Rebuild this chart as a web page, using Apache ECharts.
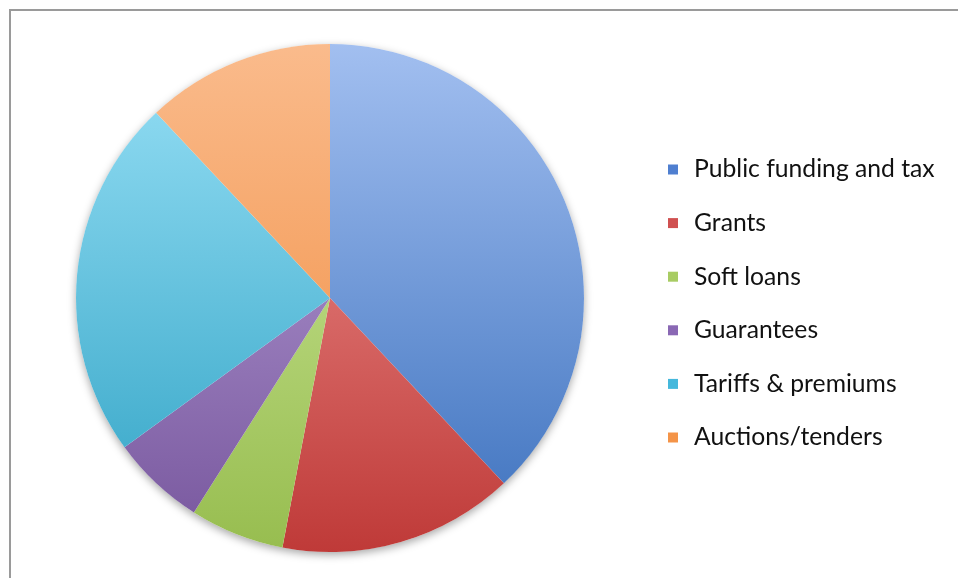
<!DOCTYPE html>
<html>
<head>
<meta charset="utf-8">
<script src="https://cdn.jsdelivr.net/npm/echarts@6/dist/echarts.min.js"></script>
<style>
  html, body { margin: 0; padding: 0; background: #fff; }
  #frame { position: absolute; left: 9px; top: 9px; width: 960px; height: 580px;
           border-left: 2px solid #9a9a9a; border-top: 2px solid #9a9a9a; }
  #chart { position: absolute; left: 0; top: 0; width: 958px; height: 578px; }
</style>
</head>
<body>
<div id="frame"></div>
<div id="chart"></div>
<script>
// Funding instruments (share, %)
const categories = ['Public funding and tax', 'Grants', 'Soft loans', 'Guarantees', 'Tariffs & premiums', 'Auctions/tenders'];
const shares = [38, 15, 6, 6, 23, 12];
// light (top of pie) -> dark (bottom of pie)
const lightColors = ['#a2bff0', '#f29a98', '#d2eba2', '#bca6dc', '#98e0f6', '#fabb8c'];
const darkColors  = ['#3b70bd', '#bf3a38', '#97bd4f', '#77569d', '#2fa2c4', '#f0893a'];
const legendColors = ['#4f7fd0', '#d05050', '#a8cc63', '#8a68b4', '#45b8dc', '#f49448'];

const cx = 330, cy = 298, r = 254;

function shade(i) {
  return new echarts.graphic.LinearGradient(0, cy - r, 0, cy + r, [
    { offset: 0, color: lightColors[i] },
    { offset: 1, color: darkColors[i] }
  ], true);
}

const chart = echarts.init(document.getElementById('chart'), null, { renderer: 'canvas' });
const total = shares.reduce((a, b) => a + b, 0);

chart.setOption({
  animation: false,
  legend: {
    orient: 'vertical',
    left: 668,
    top: 157,
    padding: 0,
    icon: 'rect',
    itemWidth: 10,
    itemHeight: 10,
    itemGap: 28.6,
    selectedMode: false,
    textStyle: { fontFamily: 'Lato', fontSize: 24.7, color: '#111111', lineHeight: 24, padding: [0, 0, 0, 11] },
    data: categories.map((name, i) => ({ name, itemStyle: { color: legendColors[i] } }))
  },
  series: [
    {
      // soft drop shadow beneath the pie
      type: 'pie',
      silent: true,
      center: [cx, cy],
      radius: [0, r],
      label: { show: false },
      labelLine: { show: false },
      itemStyle: { color: '#ffffff', shadowColor: 'rgba(0,0,0,0.35)', shadowBlur: 8, shadowOffsetY: 3 },
      data: [{ name: '', value: total }]
    },
    {
      type: 'pie',
      center: [cx, cy],
      radius: [0, r],
      startAngle: 90,
      clockwise: true,
      label: { show: false },
      labelLine: { show: false },
      itemStyle: { borderWidth: 0 },
      data: categories.map((name, i) => ({ name, value: shares[i], itemStyle: { color: shade(i) } }))
    }
  ]
});
</script>
</body>
</html>
